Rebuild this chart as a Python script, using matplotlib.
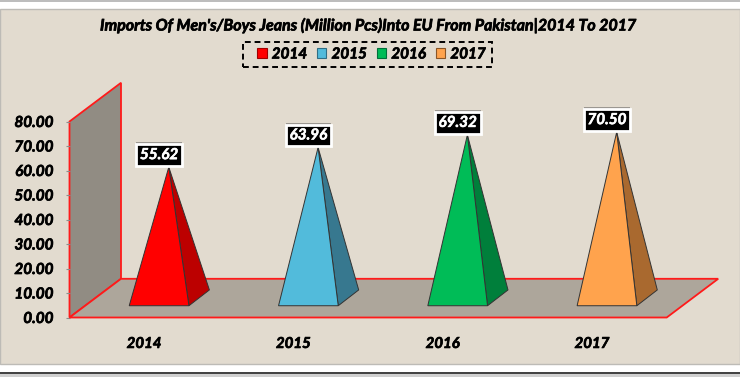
import matplotlib
matplotlib.use('Agg')
import matplotlib.pyplot as plt
import matplotlib.patheffects as pe
from matplotlib.patches import Patch, Polygon, Rectangle

plt.rcParams['font.family'] = ['Lato', 'DejaVu Sans']
plt.rcParams['font.weight'] = 'bold'
plt.rcParams['font.style'] = 'italic'

years = ['2014', '2015', '2016', '2017']
imports = [55.62, 63.96, 69.32, 70.50]
front_colors = ['#FF0000', '#52BBDB', '#00BC57', '#FFA34D']
side_colors = ['#BC0000', '#37788F', '#007F3B', '#A9692F']
swatch_edges = ['#A00000', '#2F6E85', '#00703A', '#8A5526']
y_ticks = [0, 10, 20, 30, 40, 50, 60, 70, 80]

W, H = 740, 377
fig = plt.figure(figsize=(W / 100, H / 100), dpi=100, facecolor='white')

# thickens Lato a bit, closer to the heavy look of the original labels
heavy = [pe.withStroke(linewidth=0.5, foreground='black')]

# pixel box of the front of the plot
left, right, bottom, top = 69.5, 666.7, 317.5, 121.5
ax = fig.add_axes([left / W, 1 - bottom / H, (right - left) / W, (bottom - top) / H])
ax.set_xlim(0, 4)
ax.set_ylim(0, 80)
ax.patch.set_visible(False)
for s in ax.spines.values():
    s.set_visible(False)

# picture frame, white strips above and below
fig.add_artist(Rectangle((0, 1 - 363.5 / H), 1, 355 / H, transform=fig.transFigure,
                         fc='#E2DBCF', ec='#BDBBB6', lw=1, zorder=-2))
fig.add_artist(Rectangle((0, 1 - 1.5 / H), 1, 1.5 / H, transform=fig.transFigure,
                         fc='#BDBDBD', ec='none', zorder=-2))
fig.add_artist(Rectangle((0, 0), 1, 4 / H, transform=fig.transFigure,
                         fc='#D0D0D0', ec='none', zorder=-2))
fig.add_artist(Rectangle((0, 3.5 / H), 1, 1.2 / H, transform=fig.transFigure,
                         fc='#444444', ec='none', zorder=-2))

# 3d depth of the box, in data units
depth_x = 51.5 / 149.3
depth_y = 15.8

ax.add_patch(Polygon([(0, 0), (0, 80), (depth_x, 80 + depth_y), (depth_x, depth_y)],
                     fc='#918C83', ec='#FF1A1A', lw=1.3, clip_on=False, zorder=1))
ax.add_patch(Polygon([(0, 0), (4, 0), (4 + depth_x, depth_y), (depth_x, depth_y)],
                     fc='#ADA69B', ec='#FF1A1A', lw=1.3, clip_on=False, zorder=2))

for i, v in enumerate(imports):
    c = i + 0.6
    fl = (c - 0.2, 4.8)
    fr = (c + 0.2, 4.8)
    br = (c + 0.337, 11.25)
    apex = (c + 0.065, 8 + 0.96 * v)
    ax.add_patch(Polygon([fr, br, apex], fc=side_colors[i], ec='#333333', lw=0.7,
                         clip_on=False, zorder=3))
    ax.add_patch(Polygon([fl, fr, apex], fc=front_colors[i], ec='#333333', lw=0.7,
                         clip_on=False, zorder=4))
    t = ax.annotate('%.2f' % v, xy=(c, apex[1]), xytext=(0, 8.6), textcoords='offset points',
                    ha='center', va='center', color='white', fontsize=11, zorder=6,
                    annotation_clip=False,
                    bbox=dict(boxstyle='square,pad=0.25', fc='black', ec='white', lw=2))
    t.set_path_effects([pe.withStroke(linewidth=0.4, foreground='white')])
    t.get_bbox_patch().set_path_effects([
        pe.withSimplePatchShadow(offset=(0, 1.5), shadow_rgbFace='#555555', alpha=0.5)])

ax.set_yticks(y_ticks)
ax.set_yticklabels(['%.2f' % y for y in y_ticks], fontsize=11, color='black', path_effects=heavy)
ax.tick_params(axis='y', length=3, width=0.8, color='#8C8C8C', pad=8.5)
ax.set_xticks([i + 0.5 for i in range(len(years))])
ax.set_xticklabels(years, fontsize=10.8, color='black', path_effects=heavy)
ax.tick_params(axis='x', length=0, pad=14)

fig.text(368.5 / W, 1 - 26 / H, "Imports Of Men's/Boys Jeans (Million Pcs)Into EU From Pakistan|2014 To 2017",
         ha='center', va='center', fontsize=11.5, color='black', path_effects=heavy)

handles = [Patch(fc=front_colors[i], ec=swatch_edges[i], lw=0.8, label=years[i]) for i in range(4)]
leg = fig.legend(handles=handles, ncol=4, loc='center', bbox_to_anchor=(371.5 / W, 1 - 54.5 / H),
                 fontsize=11, frameon=False, borderaxespad=0, borderpad=0,
                 handlelength=0.62, handleheight=0.62, handletextpad=0.33, columnspacing=0.64)
for txt in leg.get_texts():
    txt.set_path_effects(heavy)

# legend box is wider than tall padding allows, so drawn by hand
fig.add_artist(Rectangle((243.3 / W, 1 - 66.7 / H), 249 / W, 25 / H, transform=fig.transFigure,
                         fc='none', ec='black', lw=1.4, ls=(0, (3, 2))))

fig.savefig('out.png', dpi=100)
